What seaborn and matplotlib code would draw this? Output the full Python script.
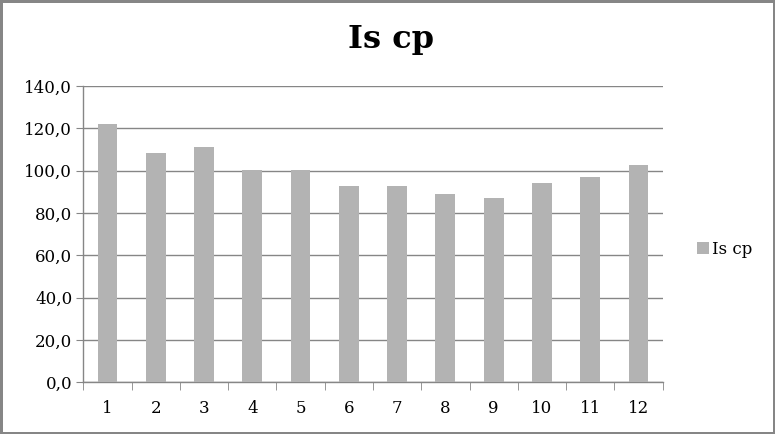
import pandas as pd
import matplotlib.pyplot as plt
import seaborn as sns
from matplotlib.ticker import FuncFormatter, FixedLocator

# data
months = ["1", "2", "3", "4", "5", "6", "7", "8", "9", "10", "11", "12"]
is_cp = [122.0, 108.3, 111.2, 100.3, 100.3, 92.8, 92.8, 89.0, 87.1, 94.2, 97.0, 102.7]

df = pd.DataFrame({"month": months, "value": is_cp})

sns.set_style("white")
plt.rcParams["font.family"] = ["DejaVu Serif"]
plt.rcParams["text.color"] = "black"
plt.rcParams["xtick.labelcolor"] = "black"
plt.rcParams["ytick.labelcolor"] = "black"

grey = "#868686"

fig = plt.figure(figsize=(7.75, 4.34), dpi=100, edgecolor=grey, linewidth=2.5)
ax = fig.add_axes([0.1075, 0.119, 0.7475, 0.683])

sns.barplot(data=df, x="month", y="value", color="#B3B3B3", width=0.41,
            saturation=1, linewidth=0, label="Is cp", ax=ax, zorder=3)

ax.set_ylim(0, 140)
ax.set_xlim(-0.5, len(months) - 0.5)
ax.set_yticks(range(0, 141, 20))
ax.yaxis.set_major_formatter(FuncFormatter(lambda v, p: f"{v:.1f}".replace(".", ",")))
ax.grid(axis="y", color=grey, linewidth=1, zorder=0)
ax.set_axisbelow(True)

for s in ["top", "right"]:
    ax.spines[s].set_visible(False)
for s in ["left", "bottom"]:
    ax.spines[s].set_color(grey)
    ax.spines[s].set_linewidth(1)

# tick marks at category boundaries, labels centred under bars
ax.xaxis.set_minor_locator(FixedLocator([i - 0.5 for i in range(len(months) + 1)]))
ax.tick_params(axis="x", which="major", length=0, pad=13, labelsize=12)
ax.tick_params(axis="x", which="minor", length=6, color=grey, direction="out", bottom=True)
ax.tick_params(axis="y", length=5, color=grey, direction="out", left=True, labelsize=12, pad=3)

ax.set_xlabel("")
ax.set_ylabel("")
fig.suptitle("Is cp", x=0.505, y=0.945, fontsize=23, fontweight="bold", va="top")

ax.legend(loc="center left", bbox_to_anchor=(0.88, 0.425), bbox_transform=fig.transFigure,
          frameon=False, fontsize=12, handlelength=0.7, handleheight=0.7, handletextpad=0.2)

fig.savefig("out.png", dpi=100, edgecolor=grey)
